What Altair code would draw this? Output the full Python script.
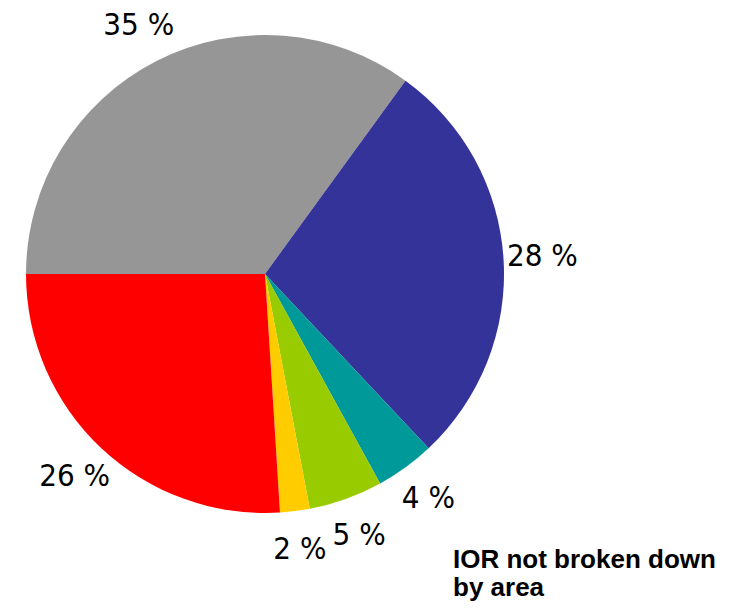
import math
import altair as alt
import pandas as pd

categories = ["Grey", "Blue", "Teal", "Green", "Yellow", "Red"]
shares = [35, 28, 4, 5, 2, 26]
labels = ["35 %", "28 %", "4 %", "5 %", "2 %", "26 %"]
colors = ["#969696", "#333399", "#009999", "#99CC00", "#FFCC00", "#FF0000"]
note_lines = ["IOR not broken down", "by area"]

df = pd.DataFrame({
    "cat": categories,
    "share": shares,
    "label": labels,
    "idx": list(range(len(categories))),
})

cx, cy = 257, 266
theta = alt.Theta("share:Q", stack=True,
                  scale=alt.Scale(range=[1.5 * math.pi, 3.5 * math.pi]))
order = alt.Order("idx:Q", sort="ascending")

base = alt.Chart(df).encode(theta=theta, order=order)

pie = base.mark_arc(radius=239, stroke=None).encode(
    color=alt.Color("cat:N", scale=alt.Scale(domain=categories, range=colors), legend=None),
    x=alt.value(cx), y=alt.value(cy),
)

text = base.mark_text(
    radius=278, font="DejaVu Sans Condensed, Liberation Sans Narrow, sans-serif",
    fontSize=31, color="black", align="center", baseline="middle",
).encode(text="label:N", x=alt.value(cx), y=alt.value(cy))

note = alt.Chart(pd.DataFrame({"t": [note_lines]})).mark_text(
    font="Liberation Sans, Arial, sans-serif", fontWeight="bold", fontSize=26,
    align="left", baseline="alphabetic", lineHeight=28, color="black",
).encode(text="t", x=alt.value(445), y=alt.value(560))

chart = alt.layer(pie, text, note).properties(
    width=730, height=593, padding=0, autosize=alt.AutoSizeParams(type="none")
).configure_view(stroke=None)

chart.save("out.html", embed_options={"renderer": "svg", "actions": False})
